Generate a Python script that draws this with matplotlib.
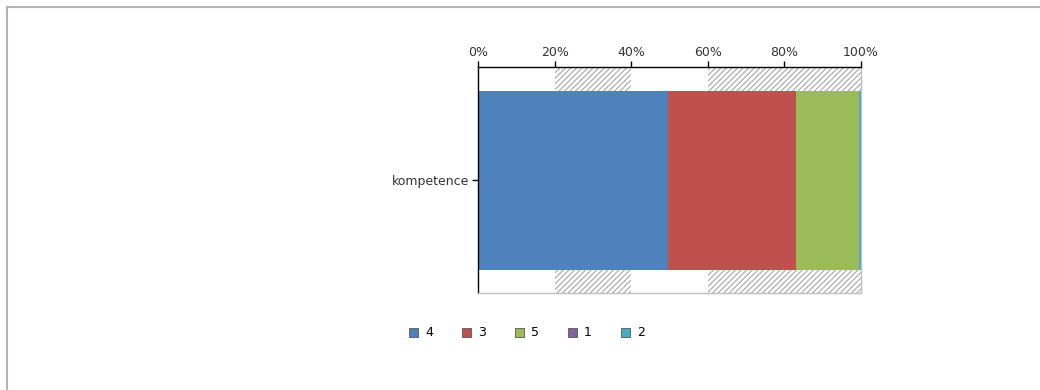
import matplotlib
matplotlib.use("Agg")
import matplotlib.pyplot as plt
from matplotlib.patches import Patch
from matplotlib.lines import Line2D

categories = ["kompetence"]
series_names = ["4", "3", "5", "1", "2"]
series_values = [49.6, 33.4, 16.5, 0.0, 0.5]
series_colors = ["#4F81BD", "#C0504D", "#9BBB59", "#8064A2", "#4BACC6"]
tick_values = [0, 20, 40, 60, 80, 100]
tick_labels = ["0%", "20%", "40%", "60%", "80%", "100%"]
hatch_bands = [(20, 40), (60, 100)]

plt.rcParams['font.family'] = ['DejaVu Sans']
plt.rcParams['hatch.color'] = '#a6a6a6'
plt.rcParams['hatch.linewidth'] = 0.8

fig = plt.figure(figsize=(10.4, 3.9), dpi=100)
fig.patch.set_facecolor("white")

# outer border (top and left)
fig.add_artist(Line2D([7/1040, 1.0], [1-7/390, 1-7/390], color="#b3b3b3", lw=1.5, transform=fig.transFigure))
fig.add_artist(Line2D([7/1040, 7/1040], [0, 1-7/390], color="#b3b3b3", lw=1.5, transform=fig.transFigure))

ax = fig.add_axes([478/1040, 1-293/390, 383/1040, 226/390])
for a, b in hatch_bands:
    ax.axvspan(a, b, facecolor="white", edgecolor="#a6a6a6", hatch="//////", lw=0, zorder=0)

left = 0
for name, val, col in zip(series_names, series_values, series_colors):
    ax.barh(0, val, left=left, height=179/226, color=col, edgecolor="none", label=name, zorder=2)
    left += val

ax.set_xlim(0, 100)
ax.set_ylim(-0.5, 0.5)
ax.xaxis.tick_top()
ax.set_xticks(tick_values)
ax.set_xticklabels(tick_labels, fontsize=9, color="#333333")
ax.tick_params(axis="x", direction="out", length=4, width=1, color="black", pad=2)
ax.set_yticks([0])
ax.set_yticklabels(categories, fontsize=9, color="#333333")
ax.tick_params(axis="y", direction="out", length=4, width=1, color="black", pad=2)

for s in ["top", "left"]:
    ax.spines[s].set_color("black")
    ax.spines[s].set_linewidth(1)
for s in ["right", "bottom"]:
    ax.spines[s].set_color("#bfbfbf")
    ax.spines[s].set_linewidth(1)

handles = [Patch(facecolor=c, edgecolor="#555555", linewidth=0.6) for c in series_colors]
fig.legend(handles, series_names, loc="center", bbox_to_anchor=(527/1040, 1-333/390),
           ncol=5, frameon=False, fontsize=9, handlelength=0.7, handleheight=0.7,
           handletextpad=0.6, columnspacing=2.3)

fig.savefig("out.png", dpi=100, facecolor="white")
